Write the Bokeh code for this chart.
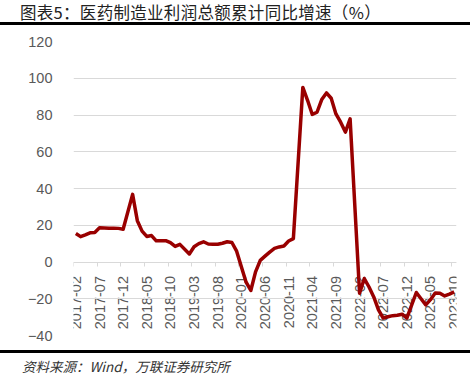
import math
from bokeh.plotting import figure
from bokeh.layouts import column
from bokeh.models import Range1d, FixedTicker, ColumnDataSource, Div
from bokeh.embed import file_html
from bokeh.resources import INLINE

# ---- data (Jan figures are not published; Jan-Feb cumulative shown at Feb) ----
months = [
    "2017-02", "2017-03", "2017-04", "2017-05", "2017-06", "2017-07", "2017-08", "2017-09", "2017-10", "2017-11", "2017-12",
    "2018-02", "2018-03", "2018-04", "2018-05", "2018-06", "2018-07", "2018-08", "2018-09", "2018-10", "2018-11", "2018-12",
    "2019-02", "2019-03", "2019-04", "2019-05", "2019-06", "2019-07", "2019-08", "2019-09", "2019-10", "2019-11", "2019-12",
    "2020-02", "2020-03", "2020-04", "2020-05", "2020-06", "2020-07", "2020-08", "2020-09", "2020-10", "2020-11", "2020-12",
    "2021-02", "2021-03", "2021-04", "2021-05", "2021-06", "2021-07", "2021-08", "2021-09", "2021-10", "2021-11", "2021-12",
    "2022-02", "2022-03", "2022-04", "2022-05", "2022-06", "2022-07", "2022-08", "2022-09", "2022-10", "2022-11", "2022-12",
    "2023-02", "2023-03", "2023-04", "2023-05", "2023-06", "2023-07", "2023-08", "2023-09", "2023-10",
]
growth = [
    15.5, 13.8, 14.8, 15.9, 16.1, 18.6, 18.5, 18.4, 18.4, 18.3, 17.8,
    36.8, 22.5, 16.8, 13.9, 14.4, 11.5, 11.6, 11.6, 10.5, 8.5, 9.6,
    4.4, 8.3, 10.0, 11.0, 9.8, 9.6, 9.7, 10.2, 11.0, 10.6, 5.9,
    -11.0, -15.5, -5.4, 0.9, 3.2, 5.4, 7.4, 8.2, 8.7, 11.4, 12.7,
    95.0, 88.0, 80.3, 81.5, 88.4, 92.0, 89.1, 80.6, 76.1, 70.7, 77.9,
    -17.0, -9.0, -13.6, -19.0, -26.0, -30.5, -29.8, -29.2, -29.0, -28.4, -30.5,
    -16.6, -20.0, -23.3, -20.5, -16.9, -17.0, -18.5, -17.5, -16.3,
]
tick_labels = [
    "2017-02", "2017-07", "2017-12", "2018-05", "2018-10", "2019-03", "2019-08", "2020-01", "2020-06",
    "2020-11", "2021-04", "2021-09", "2022-02", "2022-07", "2022-12", "2023-05", "2023-10",
]
y_ticks = [-40, -20, 0, 20, 40, 60, 80, 100, 120]
y_tick_labels = ["\u221240", "\u221220", "0", "20", "40", "60", "80", "100", "120"]

title_text = "图表5：医药制造业利润总额累计同比增速（%）"
source_text = "资料来源：Wind，万联证券研究所"


def month_index(s):
    y, m = s.split("-")
    return (int(y) - 2017) * 12 + int(m) - 2


xs = [month_index(m) for m in months]
tick_pos = [month_index(t) for t in tick_labels]
n_months = month_index(months[-1]) + 1

W = 470

p = figure(
    width=W, height=325,
    output_backend="svg", toolbar_location=None,
    x_range=Range1d(-0.5, n_months - 0.5), y_range=Range1d(min(y_ticks), max(y_ticks)),
    min_border_left=73, min_border_right=14, min_border_top=16, min_border_bottom=15,
    margin=0,
)
p.outline_line_color = None
p.background_fill_color = "white"
p.border_fill_color = "white"

# grid
p.xgrid.grid_line_color = None
p.ygrid.grid_line_color = "#d9d9d9"
p.ygrid.grid_line_width = 1
p.ygrid.ticker = FixedTicker(ticks=y_ticks)

# y axis
p.yaxis.ticker = FixedTicker(ticks=y_ticks)
p.yaxis.major_label_overrides = {t: l for t, l in zip(y_ticks, y_tick_labels)}
p.yaxis.axis_line_color = None
p.yaxis.major_tick_line_color = None
p.yaxis.minor_tick_line_color = None
p.yaxis.major_tick_out = 0
p.yaxis.major_label_standoff = 21
p.yaxis.major_label_text_font = "Liberation Sans"
p.yaxis.major_label_text_font_size = "14.5px"
p.yaxis.major_label_text_color = "#595959"

# x axis drawn at y = 0
p.xaxis.fixed_location = 0
p.xaxis.ticker = FixedTicker(ticks=tick_pos, minor_ticks=[t - 0.5 for t in tick_pos])
p.xaxis.major_label_overrides = {t: l for t, l in zip(tick_pos, tick_labels)}
p.xaxis.major_label_orientation = math.pi / 2
p.xaxis.axis_line_color = "#d9d9d9"
p.xaxis.major_tick_line_color = None
p.xaxis.major_tick_out = 0
p.xaxis.major_tick_in = 0
p.xaxis.minor_tick_line_color = "#d9d9d9"
p.xaxis.minor_tick_out = 4
p.xaxis.minor_tick_in = 0
p.xaxis.major_label_standoff = 10
p.xaxis.major_label_text_font = "Liberation Sans"
p.xaxis.major_label_text_font_size = "14.5px"
p.xaxis.major_label_text_color = "#595959"
p.xaxis.level = "underlay"

src = ColumnDataSource(dict(x=xs, y=growth))
p.line("x", "y", source=src, line_color="#990000", line_width=3.5, line_join="round")

title_div = Div(
    text=(f'<div style="width:{W}px;height:25px;border-bottom:3px solid #000;'
          f'font-family:\'Noto Sans CJK SC\';font-size:16.5px;line-height:24px;color:#222;'
          f'letter-spacing:0.3px;padding-left:20px;box-sizing:border-box;white-space:nowrap;">{title_text}</div>'),
    width=W, height=25, margin=0,
)
source_div = Div(
    text=(f'<div style="width:{W}px;height:29px;border-top:3px solid #000;'
          f'font-family:\'Noto Sans CJK SC\';font-size:13.5px;line-height:27px;color:#333;'
          f'font-style:italic;padding-left:22px;box-sizing:border-box;white-space:nowrap;">{source_text}</div>'),
    width=W, height=29, margin=0,
)

layout = column(title_div, p, source_div, spacing=0, margin=0)

open("out.html", "w").write(file_html(layout, INLINE))
